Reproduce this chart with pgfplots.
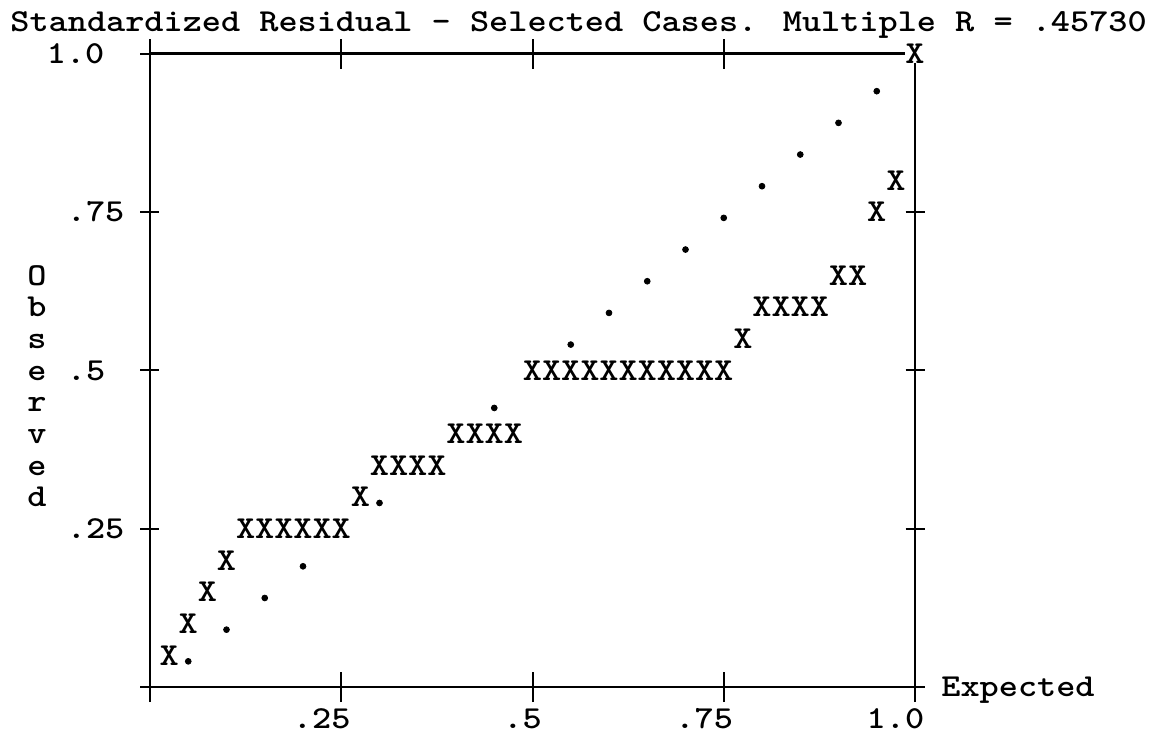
\documentclass[border=0pt]{standalone}
\usepackage{pgfplots}
\pgfplotsset{compat=1.18}
\usepackage{fontspec}
\newfontfamily\pmono{lmmonolt10-bold}[Extension=.otf, FakeStretch=1.14]
\newcommand\pfont{\pmono\fontsize{16}{19}\selectfont}
\tikzset{
  txt/.style={font=\pfont, inner sep=0pt, anchor=base west, yshift=-4.9pt},
  txtc/.style={font=\pfont, inner sep=0pt, anchor=base, yshift=-4.9pt},
  txte/.style={font=\pfont, inner sep=0pt, anchor=base east, yshift=-4.9pt},
}
\pgfplotstableread{
x y
0.025 0.05
0.05 0.10
0.075 0.15
0.10 0.20
0.125 0.25
0.15 0.25
0.175 0.25
0.20 0.25
0.225 0.25
0.25 0.25
0.275 0.30
0.30 0.35
0.325 0.35
0.35 0.35
0.375 0.35
0.40 0.40
0.425 0.40
0.45 0.40
0.475 0.40
0.50 0.50
0.525 0.50
0.55 0.50
0.575 0.50
0.60 0.50
0.625 0.50
0.65 0.50
0.675 0.50
0.70 0.50
0.725 0.50
0.75 0.50
0.775 0.55
0.80 0.60
0.825 0.60
0.85 0.60
0.875 0.60
0.90 0.65
0.925 0.65
0.95 0.75
0.975 0.80
1.00 1.00
}\observed
\pgfplotstableread{
x y
0.05 0.05
0.10 0.10
0.15 0.15
0.20 0.20
0.30 0.30
0.45 0.45
0.55 0.55
0.60 0.60
0.65 0.65
0.70 0.70
0.75 0.75
0.80 0.80
0.85 0.85
0.90 0.90
0.95 0.95
}\expectedline
\begin{document}
\begin{tikzpicture}
\begin{axis}[
  at={(0,0)}, anchor=south west,
  scale only axis, width=382.5pt, height=316.75pt,
  xmin=0, xmax=1, ymin=0, ymax=1,
  xtick=\empty, ytick=\empty,
  axis line style={line width=1.2pt},
  clip=false,
]
% ticks
\pgfplotsinvokeforeach{0,0.25,0.5,0.75,1}{
  \draw[line width=1pt] (axis cs:#1,0) ++(0,-7.5pt) -- ++(0,15pt);
}
\pgfplotsinvokeforeach{0,0.25,0.5,0.75}{
  \draw[line width=1pt] (axis cs:#1,1) ++(0,-7.5pt) -- ++(0,15pt);
}
\pgfplotsinvokeforeach{0,0.25,0.5,0.75,1}{
  \draw[line width=1pt] (axis cs:0,#1) ++(-4.75pt,0) -- ++(9.5pt,0);
}
\pgfplotsinvokeforeach{0,0.25,0.5,0.75}{
  \draw[line width=1pt] (axis cs:1,#1) ++(-4.75pt,0) -- ++(9.5pt,0);
}
\addplot[only marks, mark=*, mark size=1.45pt, black,
  mark options={yshift=-3pt}]
  table[x=x,y=y] {\expectedline};
\addplot[only marks, mark=text, text mark={X}, text mark as node=true,
  text mark style={font=\pfont, anchor=base, yshift=-4.9pt, inner sep=0pt, fill=white}]
  table[x=x,y=y] {\observed};
% title
\node[txt, xshift=-70pt] at (axis cs:0,1.05) {Standardized Residual - Selected Cases. Multiple R = .45730};
% y tick labels
\node[txt, xshift=-51.75pt] at (axis cs:0,1) {1.0};
\node[txt, xshift=-41.75pt] at (axis cs:0,0.75) {.75};
\node[txt, xshift=-41.75pt] at (axis cs:0,0.5) {.5};
\node[txt, xshift=-41.75pt] at (axis cs:0,0.25) {.25};
% y label, stacked
\node[txtc, xshift=-56.5pt] at (axis cs:0,0.65) {O};
\node[txtc, xshift=-56.5pt] at (axis cs:0,0.60) {b};
\node[txtc, xshift=-56.5pt] at (axis cs:0,0.55) {s};
\node[txtc, xshift=-56.5pt] at (axis cs:0,0.50) {e};
\node[txtc, xshift=-56.5pt] at (axis cs:0,0.45) {r};
\node[txtc, xshift=-56.5pt] at (axis cs:0,0.40) {v};
\node[txtc, xshift=-56.5pt] at (axis cs:0,0.35) {e};
\node[txtc, xshift=-56.5pt] at (axis cs:0,0.30) {d};
% x tick labels
\node[txte, xshift=4.79pt] at (axis cs:0.25,-0.05) {.25};
\node[txte, xshift=4.79pt] at (axis cs:0.5,-0.05) {.5};
\node[txte, xshift=4.79pt] at (axis cs:0.75,-0.05) {.75};
\node[txte, xshift=4.79pt] at (axis cs:1,-0.05) {1.0};
% x label
\node[txt, xshift=13pt] at (axis cs:1,0) {Expected};
\end{axis}
\pgfresetboundingbox
\useasboundingbox (-75pt,-24.5pt) rectangle (499.5pt,343.5pt);
\end{tikzpicture}
\end{document}
